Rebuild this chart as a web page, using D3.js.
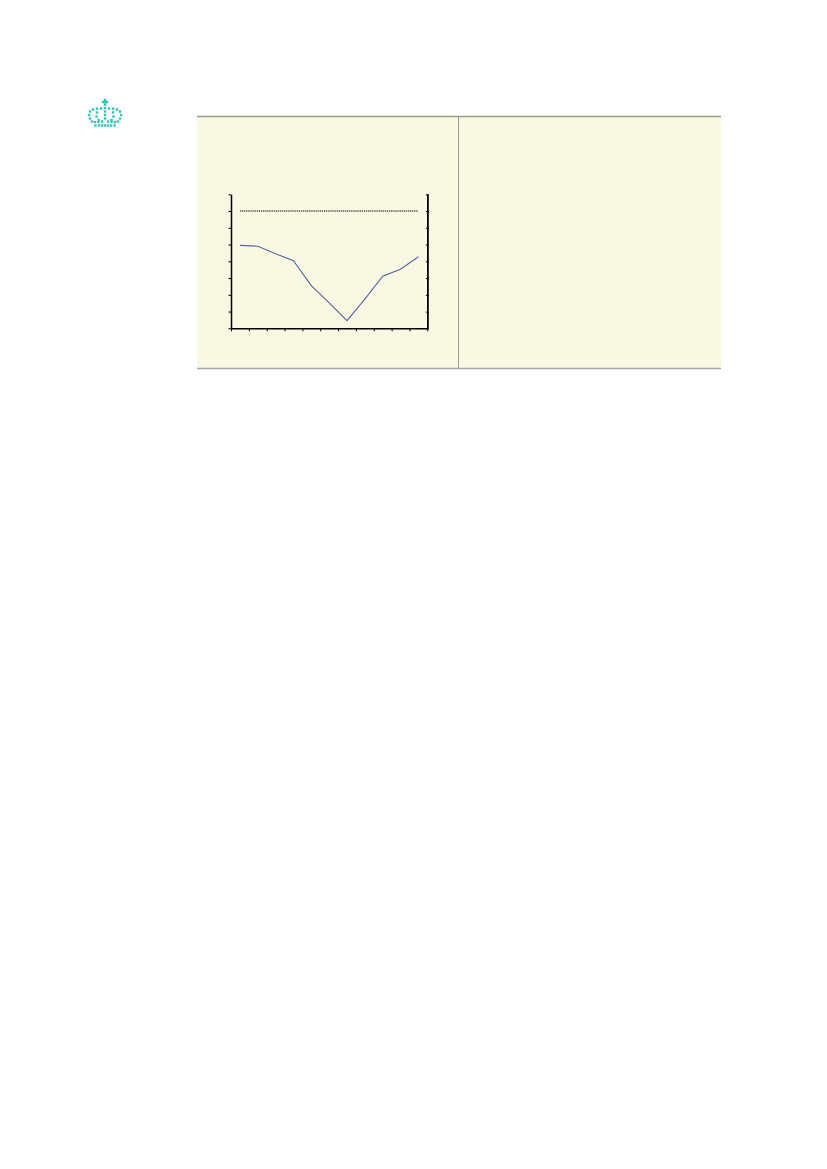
<!DOCTYPE html>
<html><head><meta charset="utf-8">
<script src="https://cdn.jsdelivr.net/npm/d3@7"></script>
<style>html,body{margin:0;padding:0;background:#fff;}svg{display:block;}</style>
</head><body>
<script>
// Data
const categories = ["1","2","3","4","5","6","7","8","9","10","11"];
const seriesValues = [4.95, 4.9, 4.45, 4.03, 2.55, 1.52, 0.46, 1.74, 3.11, 3.53, 4.27];
const referenceValues = [7, 7, 7, 7, 7, 7, 7, 7, 7, 7, 7];
const yTickValues = [0,1,2,3,4,5,6,7,8];

const W = 827, H = 1169;
const svg = d3.select("body").append("svg").attr("width", W).attr("height", H);
svg.append("rect").attr("width", W).attr("height", H).attr("fill", "#fff");

// Panel
svg.append("rect").attr("x",197).attr("y",116).attr("width",524).attr("height",252).attr("fill","#f8f8e3");
svg.append("line").attr("x1",197).attr("x2",721).attr("y1",116.5).attr("y2",116.5).attr("stroke","#9b9b8e").attr("stroke-width",1.3);
svg.append("line").attr("x1",197).attr("x2",721).attr("y1",368.5).attr("y2",368.5).attr("stroke","#a9a9a3").attr("stroke-width",1.6);
svg.append("line").attr("x1",458.5).attr("x2",458.5).attr("y1",116).attr("y2",368).attr("stroke","#9b9b8e").attr("stroke-width",1);

// Crown logo (decoration)
const crownColor = "#38c2b6";
const crownDots = [
  [105,100],[103,102],[105,102],[107,102],[105,104.5],
  [105,108],[105,111.5],[105,115],[105,118.5],
  [93,109.5],[97,108.7],[101,108.5],[109,108.5],[113,108.7],[117,109.5],
  [90,111.5],[89,115],[90,118.5],[92,121.5],
  [120,111.5],[121,115],[120,118.5],[118,121.5],
  [97,112.5],[96.5,116.5],[98.5,120],
  [113,112.5],[113.5,116.5],[111.5,120],
  [95,122],[98.5,122],[102,121.5],[108,121.5],[111.5,122],[115,122],
  [95.5,125.5],[99,125.5],[102,125.5],[105,125.5],[108,125.5],[111,125.5],[114.5,125.5]
];
svg.append("g").selectAll("rect").data(crownDots).join("rect")
  .attr("x", d=>d[0]-1.2).attr("y", d=>d[1]-1.2).attr("width",2.4).attr("height",2.4).attr("fill",crownColor);

// Scales
const x0 = 231, x1 = 427.3, yB = 328.3, yT = 194.3;
const xEdge = d3.scaleLinear().domain([0, categories.length]).range([x0, x1]);
const y = d3.scaleLinear().domain([0, 8]).range([yB, yT]);
const xc = i => xEdge(i + 0.5);

// Axes
const styleAxis = g => { g.selectAll("path.domain").attr("stroke","#000").attr("stroke-width",1.5); g.selectAll(".tick line").attr("stroke","#000").attr("stroke-width",1); g.selectAll("text").remove(); };
svg.append("g").attr("transform",`translate(${x0},0)`)
  .call(d3.axisLeft(y).tickValues(yTickValues).tickFormat("").tickSize(2.5).tickSizeOuter(0)).call(styleAxis);
svg.append("g").attr("transform",`translate(${x1},0)`)
  .call(d3.axisRight(y).tickValues(yTickValues).tickFormat("").tickSize(1.5).tickSizeOuter(0)).call(styleAxis);
svg.append("g").attr("transform",`translate(${x1},0)`)
  .call(d3.axisLeft(y).tickValues(yTickValues).tickFormat("").tickSize(1.5).tickSizeOuter(0)).call(styleAxis);
svg.append("g").attr("transform",`translate(0,${yB})`)
  .call(d3.axisBottom(xEdge).tickValues(d3.range(categories.length+1)).tickFormat("").tickSize(3).tickSizeOuter(0)).call(styleAxis);

// Lines
const line = d3.line().x((d,i)=>xc(i)).y(d=>y(d));
svg.append("path").datum(referenceValues).attr("d", line).attr("fill","none")
  .attr("stroke","#000").attr("stroke-width",1.1).attr("stroke-dasharray","1.3,0.8");
svg.append("path").datum(seriesValues).attr("d", line).attr("fill","none")
  .attr("stroke","#56659a").attr("stroke-width",1.1);
</script>
</body></html>
